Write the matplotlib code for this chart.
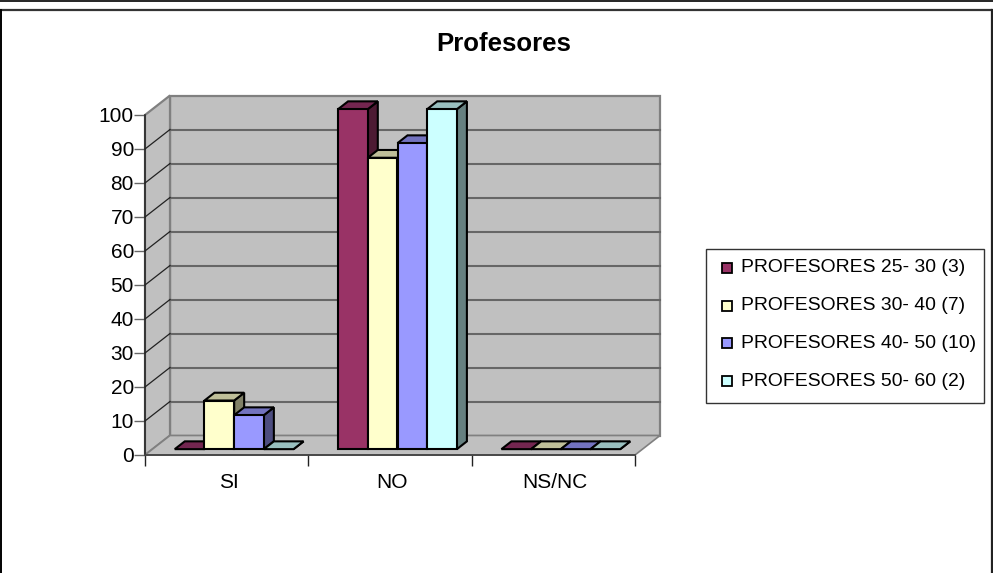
import numpy as np
from matplotlib import pyplot as plt
from matplotlib.lines import Line2D
from matplotlib.patches import Polygon, Rectangle

plt.rcParams['font.family'] = ['Liberation Sans', 'DejaVu Sans']

categories = ['SI', 'NO', 'NS/NC']
series_names = ['PROFESORES 25- 30 (3)', 'PROFESORES 30- 40 (7)',
                'PROFESORES 40- 50 (10)', 'PROFESORES 50- 60 (2)']
v_25_30 = [0, 100, 0]
v_30_40 = [14.3, 85.7, 0]
v_40_50 = [10, 90, 0]
v_50_60 = [0, 100, 0]
y_ticks = [0, 10, 20, 30, 40, 50, 60, 70, 80, 90, 100]

front = ['#993366', '#ffffcc', '#9999ff', '#ccffff']
top = ['#732650', '#bfbf99', '#7373bf', '#99bfbf']
side = ['#4d1a33', '#808066', '#4d4d80', '#668080']

W, H = 993, 573
fig = plt.figure(figsize=(W / 100, H / 100), dpi=100)


def frame_line(x, y, color, lw):
    fig.add_artist(Line2D([v / W for v in x], [1 - v / H for v in y], color=color, lw=lw,
                          transform=fig.transFigure))


# frame of the chart, no line at the bottom
frame_line([0, W], [0.5, 0.5], 'black', 1.2)
frame_line([0, 991], [10, 10], '#333333', 1.6)
frame_line([0.8, 0.8], [10, H], 'black', 1.4)
frame_line([991.5, 991.5], [10, H], '#222222', 1.6)

ax = fig.add_axes([145 / W, 1 - 455 / H, 490 / W, 340 / H])
ax.set_xlim(0, 3)
ax.set_ylim(0, 100)
ax.patch.set_visible(False)

# depth of the box in data units
DX = 25 / 490 * 3
DY = 19.5 / 340 * 100
GRID = '#666666'
WALL = '#c0c0c0'

ax.add_patch(Polygon([(DX, DY), (3 + DX, DY), (3 + DX, 100 + DY), (DX, 100 + DY)],
                     fc=WALL, ec='#808080', lw=1.6, zorder=1, clip_on=False))
ax.add_patch(Polygon([(0, 0), (DX, DY), (DX, 100 + DY), (0, 100)],
                     fc=WALL, ec='#808080', lw=1.6, zorder=1, clip_on=False))
ax.add_patch(Polygon([(0, 0), (3, 0), (3 + DX, DY), (DX, DY)],
                     fc=WALL, ec='#808080', lw=1.2, zorder=1, clip_on=False))
for t in y_ticks[1:-1]:
    ax.plot([DX, 3 + DX], [t + DY, t + DY], color=GRID, lw=1.5, zorder=2, clip_on=False)
    ax.plot([0, DX], [t, t + DY], color='#222222', lw=0.9, zorder=2, clip_on=False)

# bars, front plane sits 0.3 of the way into the box
series = [v_25_30, v_30_40, v_40_50, v_50_60]
bw = 29.7 / 490 * 3
f = 0.3
d = 0.4
x = np.arange(len(categories)) + 0.5 + f * DX
for cat in range(len(categories)):
    for i, vals in enumerate(series):
        x0 = x[cat] + (i - 2) * bw
        y0 = f * DY
        v = vals[cat]
        z = 3 + 0.1 * (-cat + i)
        ax.add_patch(Polygon([(x0 + bw, y0), (x0 + bw + d * DX, y0 + d * DY),
                              (x0 + bw + d * DX, y0 + v + d * DY), (x0 + bw, y0 + v)],
                             fc=side[i], ec='black', lw=1.5, zorder=z, clip_on=False))
        ax.add_patch(Polygon([(x0, y0 + v), (x0 + bw, y0 + v),
                              (x0 + bw + d * DX, y0 + v + d * DY), (x0 + d * DX, y0 + v + d * DY)],
                             fc=top[i], ec='black', lw=1.5, zorder=z, clip_on=False))
        if v > 0:
            ax.bar(x0, v, bw, bottom=y0, align='edge', color=front[i], ec='black', lw=1.5,
                   zorder=z + 0.01, clip_on=False)

for s in ['top', 'right']:
    ax.spines[s].set_visible(False)
ax.spines['left'].set_linewidth(1.1)
ax.spines['left'].set_color('#222222')
ax.spines['bottom'].set_linewidth(1.3)
ax.spines['bottom'].set_color('#444444')
ax.set_yticks(y_ticks)
ax.tick_params(axis='y', labelsize=15, length=8, width=1, color='#666666', pad=0)
ax.set_xticks([0, 1, 2, 3])
ax.set_xticklabels([])
ax.tick_params(axis='x', length=8, width=1, color='#222222')
for i, c in enumerate(categories):
    ax.annotate(c, (i + 0.5, 0), xytext=(2, -27), textcoords='offset pixels', ha='center', va='center',
                fontsize=15, annotation_clip=False)

fig.text(504 / W, 1 - 44 / H, 'Profesores', ha='center', va='center', fontsize=18.5, fontweight='bold')

# legend box drawn by hand to keep exact placing
fig.add_artist(Rectangle((706 / W, 1 - 403 / H), 278 / W, 154 / H, transform=fig.transFigure,
                         fc='white', ec='#333333', lw=1))
for i, name in enumerate(series_names):
    yy = 268 + i * 37.7
    fig.add_artist(Rectangle((722 / W, 1 - (yy + 5) / H), 10 / W, 10 / H, transform=fig.transFigure,
                             fc=front[i], ec='black', lw=1.3))
    fig.text(741 / W, 1 - yy / H, name, ha='left', va='center', fontsize=13.95)

fig.savefig('out.png', dpi=100)
